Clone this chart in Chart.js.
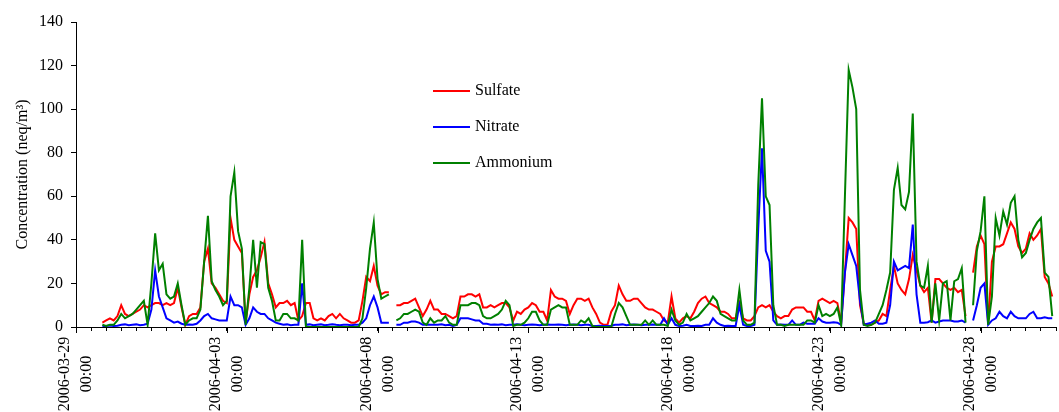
<!DOCTYPE html>
<html>
<head>
<meta charset="utf-8">
<script src="https://cdn.jsdelivr.net/npm/chart.js@4.4.1/dist/chart.umd.min.js"></script>
<style>
  html, body { margin: 0; padding: 0; background: #fff; }
  #wrap { width: 1059px; height: 412px; position: relative; }
</style>
</head>
<body>
<div id="wrap"><canvas id="c"></canvas></div>
<script>
// Time axis: days since 2006-03-29 00:00, one reading every 3 hours
const startDay = 0.875;
const stepDay = 0.125;

// Tick labels on the time axis (every 5 days)
const labelDays = [0, 5, 10, 15, 20, 25, 30];
const dateLabels = ['2006-03-29', '2006-04-03', '2006-04-08', '2006-04-13', '2006-04-18', '2006-04-23', '2006-04-28'];
const timeLabel = '00:00';

// Concentration ticks (neq/m3)
const yTicks = [0, 20, 40, 60, 80, 100, 120, 140];

// Series, neq/m3, one row per day (00,03,06,...,21 h)
const sulfate = [
  2,
  3, 4, 3, 5, 10, 6, 5, 6,
  7, 8, 10, 9, 10, 11, 11, 10,
  11, 10, 11, 18, 9, 1, 5, 6,
  6, 9, 30, 36, 20, 18, 15, 12,
  11, 50, 40, 37, 34, 2, 15, 23,
  26, 32, 39, 20, 15, 9, 11, 11,
  12, 10, 11, 3, 5, 11, 11, 4,
  3, 4, 3, 5, 6, 4, 6, 4,
  3, 2, 2, 3, 12, 23, 21, 28,
  19, 15, 16, 16, null, 10, 10, 11,
  11, 12, 13, 9, 5, 8, 12, 8,
  8, 6, 6, 5, 4, 5, 14, 14,
  15, 15, 14, 15, 9, 9, 10, 9,
  10, 11, 11, 9, 3, 7, 6, 8,
  9, 11, 10, 7, 7, 3, 17, 14,
  13, 13, 12, 6, 10, 13, 13, 12,
  13, 9, 6, 2, 1, 1, 7, 10,
  19, 15, 12, 12, 13, 13, 11, 9,
  8, 8, 7, 6, 3, 2, 14, 4,
  2, 4, 5, 4, 7, 11, 13, 14,
  11, 10, 9, 7, 7, 6, 4, 4,
  11, 4, 3, 3, 5, 9, 10, 9,
  10, 7, 5, 4, 5, 5, 8, 9,
  9, 9, 7, 7, 3, 12, 13, 12,
  11, 12, 11, 2, 25, 50, 48, 45,
  10, 1.5, 1, 1, 2, 3, 6, 5,
  17, 28, 20, 17, 15, 22, 33, 26,
  19, 16, 18, 2, 22, 22, 20, 18,
  17, 18, 16, 17, 5, null, 25, 37,
  42, 38, 1, 30, 37, 37, 38, 43,
  48, 45, 37, 34, 36, 43, 40, 42,
  45, 23, 20, 14
];

const nitrate = [
  0.5,
  0.5, 0.7, 0.5, 0.6, 1, 1.2, 0.8, 1,
  1.2, 0.8, 1, 1.5, 8, 26, 14, 9,
  4, 3, 2, 2.5, 1.5, 1, 1.2, 1,
  1.5, 3, 5, 6, 4, 3.5, 3, 3,
  3, 14, 10, 10, 9, 1, 4, 9,
  7, 6, 6, 4, 3, 2, 1.5, 1,
  1.2, 0.8, 1, 1, 20, 1, 1.2, 0.8,
  1, 1.2, 0.8, 1, 1.3, 1, 0.8, 1,
  1, 0.8, 1, 1, 2, 4, 10, 14,
  9, 2, 2, 2, null, 1, 1, 2,
  2, 2.5, 2.5, 2, 1, 1.2, 1, 1,
  1, 1.3, 0.8, 1, 0.5, 1, 4, 4,
  4, 3.5, 3, 3, 1.5, 1.5, 1, 1.2,
  1, 1.2, 0.8, 1, 1, 1.3, 1, 0.8,
  1, 1.2, 1, 0.8, 1, 1.2, 1, 1,
  1.2, 1, 0.8, 1, 1.2, 1, 0.8, 1,
  1, 0.5, 0.5, 0.6, 0.5, 0.5, 0.6, 1,
  1, 1.2, 0.8, 1, 1.2, 1, 0.8, 1,
  1, 1.2, 1, 1, 4, 1, 4, 1,
  0.5, 0.6, 1, 0.5, 0.5, 0.6, 0.5, 1,
  1, 4, 2, 1, 0.5, 0.6, 0.5, 0.5,
  10, 1, 0.5, 0.5, 1, 45, 82, 35,
  30, 3, 1, 1.2, 1, 1, 3, 1,
  1, 2, 1.5, 1.5, 1.5, 4, 2.5, 2,
  2, 2.2, 2, 1, 25, 38, 33, 28,
  12, 1, 1.5, 2, 3, 1.5, 1.5, 2,
  10, 30, 26, 27, 28, 27, 47, 15,
  2, 2, 2.2, 3, 2, 2.5, 3, 3,
  3, 2.5, 2.5, 3, 2, null, 3, 10,
  18, 20, 1, 3, 4, 7, 5, 4,
  7, 5, 4, 4, 4, 6, 7, 4,
  4, 4.5, 4, 4
];

const ammonium = [
  1,
  0.5, 1, 1, 3, 6, 4, 5, 6,
  8, 10, 12, 1, 20, 43, 26, 29,
  15, 13, 14, 20, 10, 1, 3, 4,
  4, 8, 30, 51, 21, 17, 14, 10,
  12, 60, 71, 44, 36, 1, 18, 40,
  18, 39, 38, 18, 12, 3, 3, 6,
  6, 4, 4, 3, 40, 0, 0, 0,
  0, 0, 0, 0, 0, 0, 0, 0,
  0, 0, 0, 0, 4, 18, 36, 48,
  22, 13, 14, 15, null, 3, 4, 6,
  6, 7, 8, 7, 2, 1, 4, 2,
  3, 3, 5, 2, 1, 1, 10, 10,
  10, 11, 11, 10, 5, 4, 4, 5,
  6, 8, 12, 10, 0.5, 1, 1, 2,
  4, 7, 7, 3, 1, 1, 8, 9,
  10, 9, 9, 1, 1, 1, 3, 2,
  4, 0.5, 0, 0, 0, 0, 0, 6,
  11, 9, 5, 1, 1, 1, 1, 3,
  1, 3, 1, 1, 1, 0.5, 8, 3,
  1, 2, 6, 3, 4, 5, 7, 9,
  11, 14, 12, 6, 5, 4, 3, 3,
  17, 3, 1, 1, 2, 65, 105, 60,
  56, 10, 1, 1, 0.5, 1, 1, 1,
  1, 1, 3, 3, 2, 10, 5, 6,
  5, 6, 9, 1, 60, 118, 110, 100,
  17, 1, 0.5, 1, 2, 6, 10, 17,
  25, 63, 73, 56, 54, 62, 98, 30,
  19, 18, 28, 2, 20, 3, 20, 21,
  3, 21, 22, 27, 2, null, 10, 35,
  44, 60, 1, 14, 50, 42, 53, 47,
  57, 60, 40, 32, 34, 40, 45, 48,
  50, 25, 23, 5
];

const serif = "'Liberation Serif', 'Times New Roman', serif";

function toPoints(values) {
  return values.map((v, i) => ({ x: startDay + i * stepDay, y: v }));
}

// Legend drawn inside the plot area
const insideLegend = {
  id: 'insideLegend',
  afterDraw(chart, args, opts) {
    const ctx = chart.ctx;
    ctx.save();
    ctx.font = '16px ' + serif;
    ctx.textBaseline = 'middle';
    ctx.textAlign = 'left';
    chart.data.datasets.forEach((ds, i) => {
      const y = opts.top + i * opts.rowGap;
      ctx.strokeStyle = ds.borderColor;
      ctx.lineWidth = 2;
      ctx.beginPath();
      ctx.moveTo(opts.left, y);
      ctx.lineTo(opts.left + opts.lineLen, y);
      ctx.stroke();
      ctx.fillStyle = '#000';
      ctx.fillText(ds.label, opts.left + opts.lineLen + opts.gap, y);
    });
    ctx.restore();
  }
};

// Two-line rotated date labels and longer major ticks on the time axis
const dateAxisLabels = {
  id: 'dateAxisLabels',
  afterDraw(chart, args, opts) {
    const xs = chart.scales.x;
    const ctx = chart.ctx;
    ctx.save();
    ctx.font = '16px ' + serif;
    ctx.fillStyle = '#000';
    ctx.strokeStyle = '#000';
    ctx.lineWidth = 1;
    ctx.textAlign = 'center';
    ctx.textBaseline = 'middle';
    labelDays.forEach((d, i) => {
      const px = Math.round(xs.getPixelForValue(d)) + 0.5;
      ctx.beginPath();
      ctx.moveTo(px, xs.top);
      ctx.lineTo(px, xs.top + opts.majorTick);
      ctx.stroke();
      ctx.save();
      ctx.translate(px, opts.centerY);
      ctx.rotate(-Math.PI / 2);
      ctx.fillText(dateLabels[i], 0, opts.line1);
      ctx.fillText(timeLabel, 0, opts.line2);
      ctx.restore();
    });
    ctx.restore();
  }
};

new Chart(document.getElementById('c'), {
  type: 'line',
  data: {
    datasets: [
      { label: 'Sulfate', data: toPoints(sulfate), borderColor: '#ff0000', order: 3 },
      { label: 'Nitrate', data: toPoints(nitrate), borderColor: '#0000ff', order: 2 },
      { label: 'Ammonium', data: toPoints(ammonium), borderColor: '#008000', order: 1 }
    ]
  },
  options: {
    responsive: true,
    maintainAspectRatio: false,
    animation: false,
    devicePixelRatio: 1,
    layout: { padding: { top: 22, right: 3, left: 0, bottom: 0 } },
    elements: {
      line: { borderWidth: 2, tension: 0 },
      point: { radius: 0, hoverRadius: 0 }
    },
    datasets: { line: { spanGaps: false } },
    plugins: {
      legend: { display: false },
      tooltip: { enabled: false },
      insideLegend: { left: 433, top: 91, rowGap: 36, lineLen: 37, gap: 5 },
      dateAxisLabels: { centerY: 374, line1: -12, line2: 10, majorTick: 6 }
    },
    scales: {
      x: {
        type: 'linear',
        min: 0,
        max: 32.5,
        afterFit(scale) { scale.height = 85; },
        border: { display: true, color: '#000', width: 1 },
        grid: { drawOnChartArea: false, drawTicks: true, tickLength: 4, color: '#000' },
        ticks: {
          stepSize: 0.5,
          maxTicksLimit: 100,
          autoSkip: false,
          maxRotation: 0,
          callback: () => ''
        }
      },
      y: {
        min: yTicks[0],
        max: yTicks[yTicks.length - 1],
        afterFit(scale) { scale.width = 76; },
        afterBuildTicks(scale) { scale.ticks = yTicks.map(v => ({ value: v })); },
        border: { display: true, color: '#000', width: 1 },
        grid: { drawOnChartArea: false, drawTicks: true, tickLength: 5, color: '#000' },
        ticks: {
          color: '#000',
          padding: 8,
          font: { family: serif, size: 16 }
        },
        title: {
          display: true,
          text: 'Concentration (neq/m³)',
          color: '#000',
          font: { family: serif, size: 16 },
          padding: { top: 13, bottom: 0 }
        }
      }
    }
  },
  plugins: [insideLegend, dateAxisLabels]
});
</script>
</body>
</html>
